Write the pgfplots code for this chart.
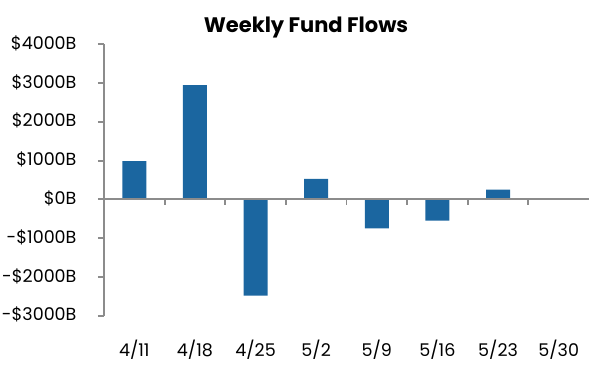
\documentclass[border=0pt]{standalone}
\usepackage{pgfplots}
\pgfplotsset{compat=1.18}
\usepackage{fontspec}
\setmainfont{Poppins}
\definecolor{barblue}{HTML}{1B66A0}
\definecolor{axgray}{HTML}{8C8C8C}
\begin{document}
\begin{tikzpicture}
\begin{axis}[
  scale only axis,
  width=485pt, height=271.4pt,
  xmin=-0.5, xmax=7.5,
  ymin=-3000, ymax=4000,
  axis y line*=left,
  axis x line*=bottom,
  x axis line style={draw=none},
  y axis line style={axgray, line width=1.8pt},
  xtick={0,...,7},
  xticklabels={4/11,4/18,4/25,5/2,5/9,5/16,5/23,5/30},
  major x tick style={draw=none},
  xticklabel style={anchor=base, yshift=-35pt, font=\fontsize{17.5}{20}\selectfont},
  ytick={-3000,-2000,...,4000},
  yticklabels={-\$3000B,-\$2000B,-\$1000B,\$0B,\$1000B,\$2000B,\$3000B,\$4000B},
  yticklabel style={font=\fontsize{17.5}{20}\selectfont, xshift=-18pt, anchor=east, yshift=1pt},
  tick align=outside,
  major y tick style={axgray, line width=1.8pt},
  major tick length=6pt,
  ybar, bar width=24pt,
  clip=false,
]
\addplot[fill=barblue, draw=none] coordinates {
  (0,990) (1,2950) (2,-2480) (3,530) (4,-750) (5,-550) (6,250) (7,0)
};
\draw[axgray, line width=1.8pt] (axis cs:-0.5,0) -- (axis cs:7.5,0);
\pgfplotsinvokeforeach{0.5,1.5,2.5,3.5,4.5,5.5,6.5}{
  \draw[axgray, line width=1.8pt] (axis cs:#1,0) -- ([yshift=-6pt]axis cs:#1,0);
}
\end{axis}
\node[anchor=base, font=\fontsize{21}{24}\selectfont\bfseries] at (202pt,282.7pt) {Weekly Fund Flows};
\pgfresetboundingbox
\useasboundingbox (-104pt,-59.3pt) rectangle (485pt,315.7pt);
\end{tikzpicture}
\end{document}
